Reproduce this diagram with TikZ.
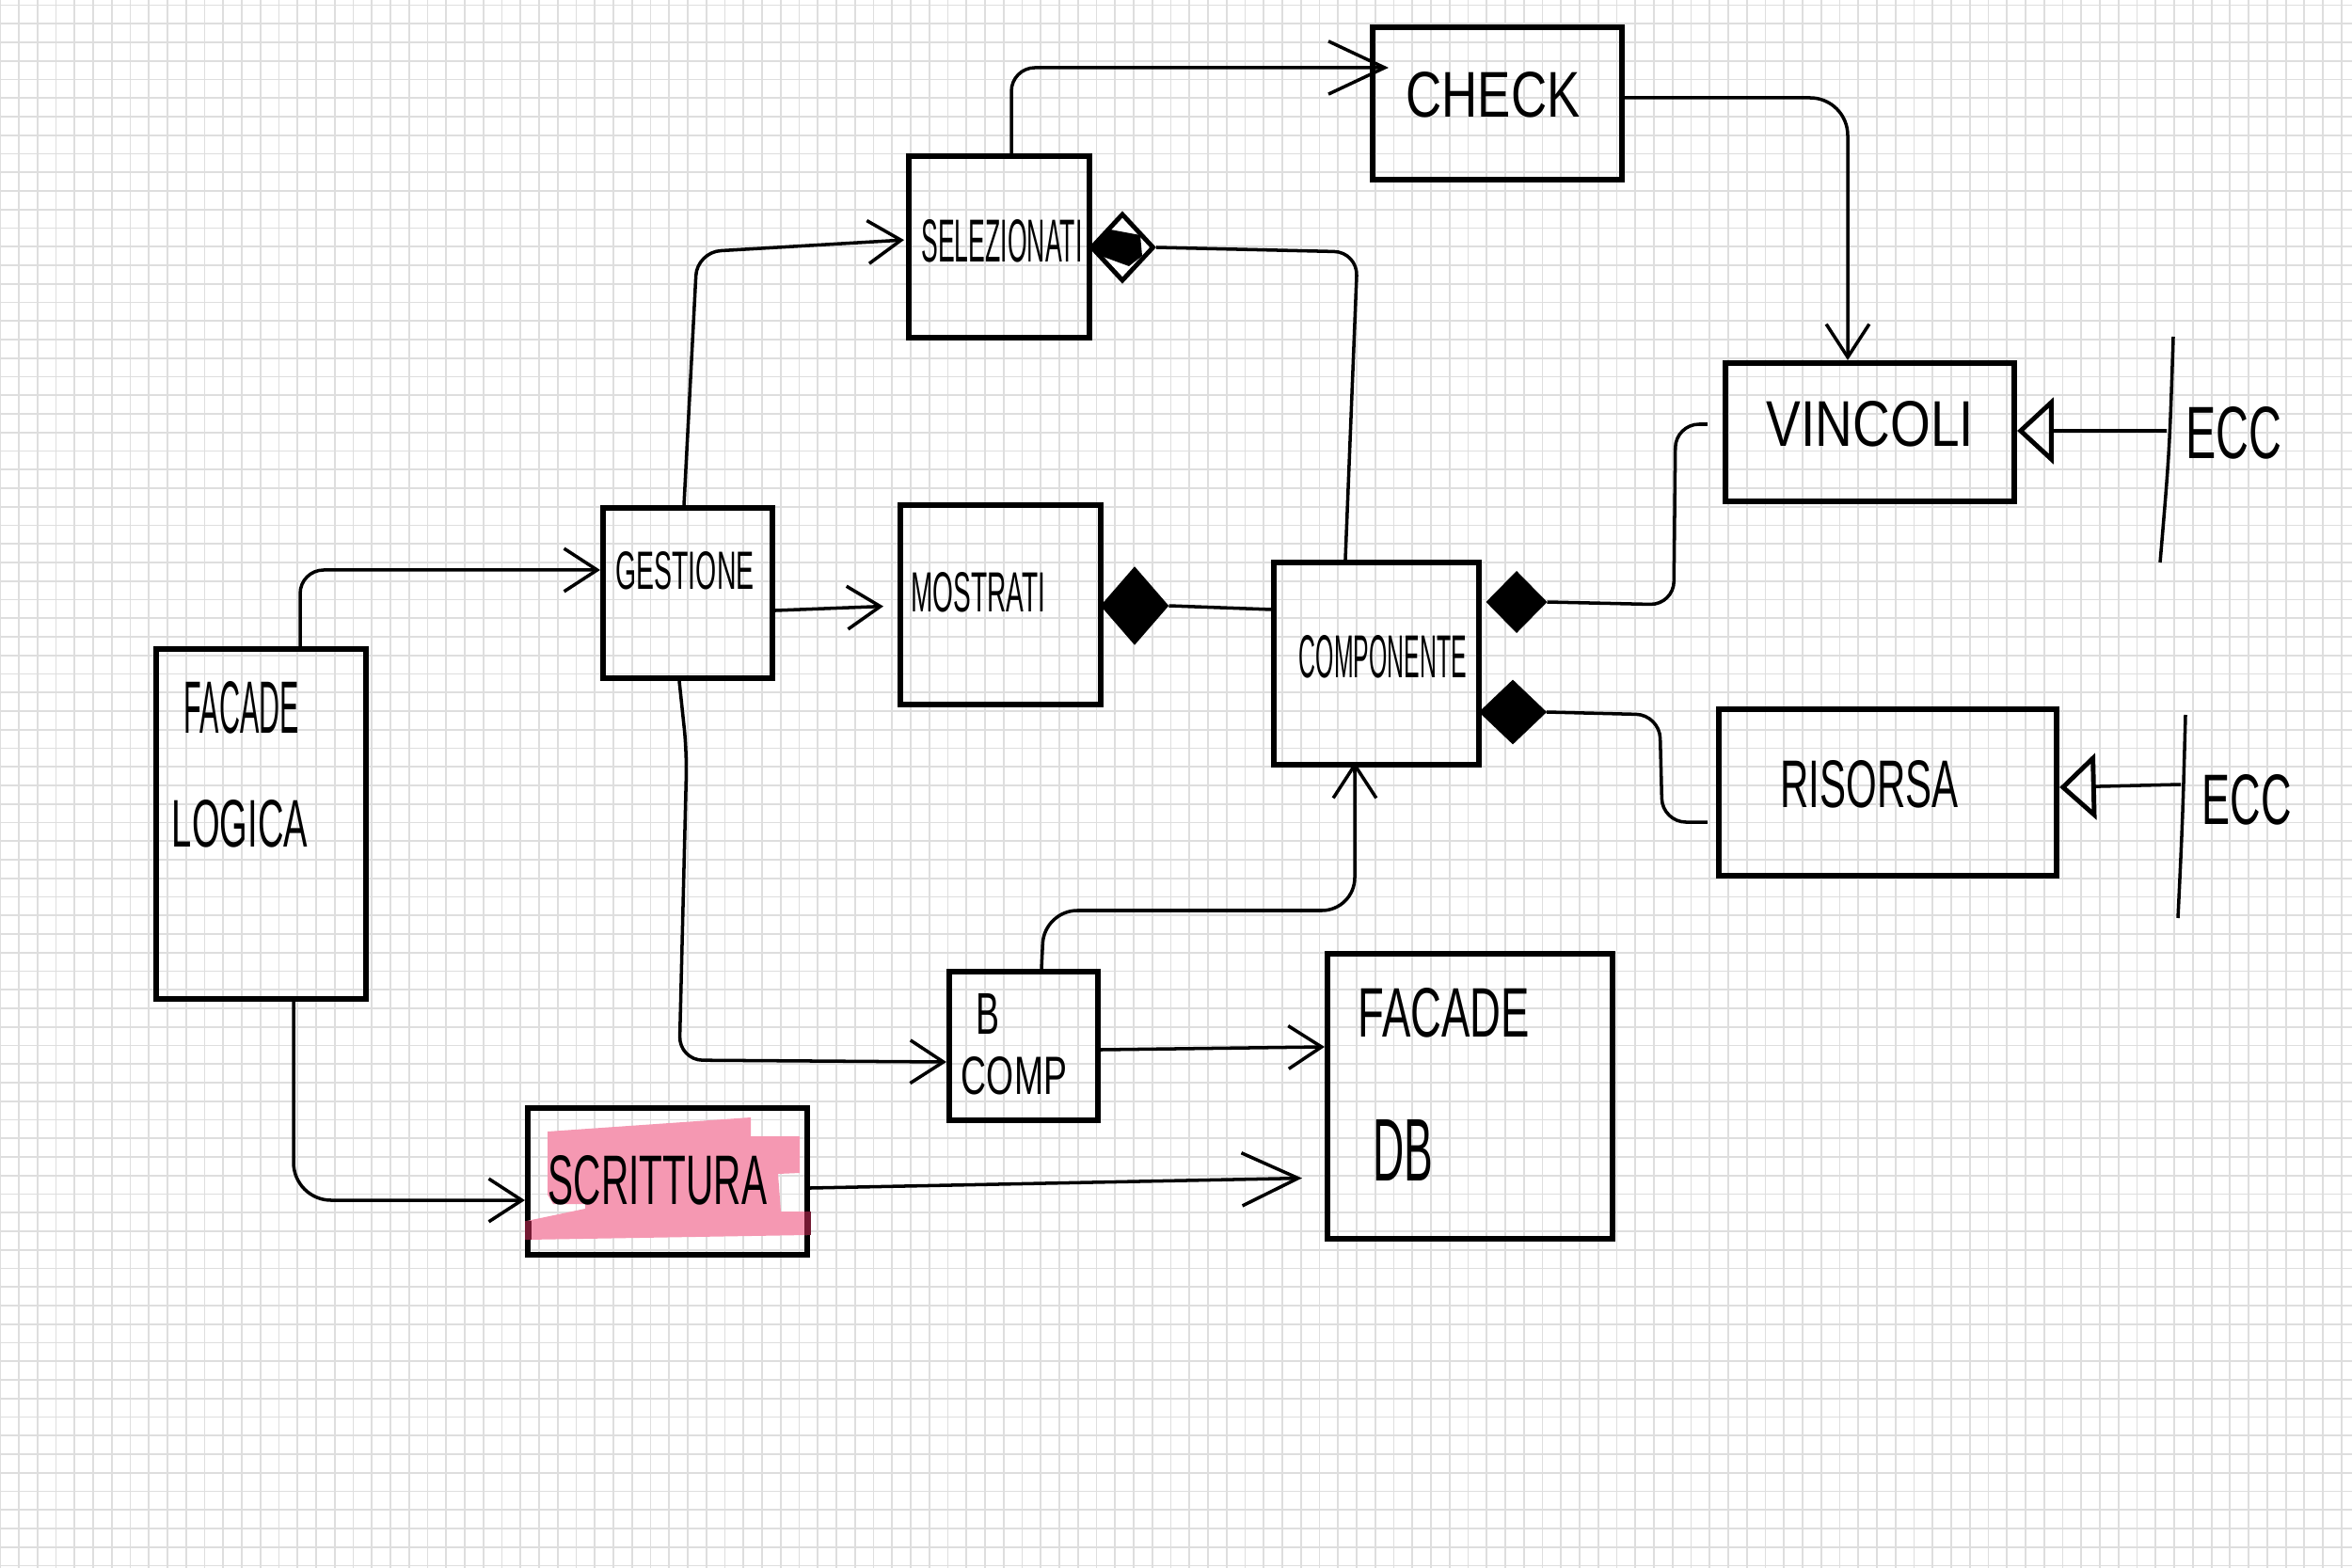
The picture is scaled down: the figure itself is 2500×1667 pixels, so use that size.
\documentclass[tikz,border=0pt]{standalone}
\usepackage{fontspec}
\setmainfont{Liberation Sans}
\usetikzlibrary{arrows.meta,shapes.geometric}
\definecolor{gridgray}{RGB}{222,222,222}
\definecolor{hlpink}{RGB}{245,152,178}
\definecolor{hlmaroon}{RGB}{115,25,50}
% text squeezed into a given width and cap height
\newcommand{\handtext}[3]{\resizebox{#1}{#2}{#3}}

\begin{document}
\begin{tikzpicture}[x=0.01cm,y=-0.01cm,
  gridln/.style={draw=gridgray,line width=0.55pt},
  box/.style={draw,rectangle,line width=1.7pt,inner sep=0pt},
  lbl/.style={inner sep=0pt,anchor=center},
  conn/.style={line width=1pt,rounded corners=0.25cm},
  harrow/.style={-{Straight Barb[length=10pt,width=13pt]}},
  bigarrow/.style={-{Straight Barb[length=17pt,width=16pt]}},
  inh/.style={-{Triangle[open,length=11pt,width=20pt,line width=1.4pt]}},
  compo/.style={diamond,draw,fill=black,line width=1.4pt,inner sep=0pt,aspect=1}]

% paper
\useasboundingbox (0,0) rectangle (2500,1667);
\fill[white] (0,0) rectangle (2500,1667);
\foreach \i in {0,...,126} \draw[gridln] ({0.25+19.75*\i},0) -- ({0.25+19.75*\i},1667);
\foreach \j in {0,...,84} \draw[gridln] (0,{5.5+19.75*\j}) -- (2500,{5.5+19.75*\j});

% boxes
\node[box,minimum width=2.23cm,minimum height=3.72cm] (logica) at (277.5,876) {};
\node[box,minimum width=1.80cm,minimum height=1.81cm] (gestione) at (731,630.5) {};
\node[box,minimum width=1.92cm,minimum height=1.93cm] (selez) at (1062,262.5) {};
\node[box,minimum width=2.13cm,minimum height=2.12cm] (mostrati) at (1063.5,643) {};
\node[box,minimum width=2.65cm,minimum height=1.62cm] (check) at (1591.5,110) {};
\node[box,minimum width=2.18cm,minimum height=2.15cm] (comp) at (1463,705.5) {};
\node[box,minimum width=3.07cm,minimum height=1.47cm] (vincoli) at (1987.5,459.5) {};
\node[box,minimum width=3.59cm,minimum height=1.77cm] (risorsa) at (2006.5,842.5) {};
\node[box,minimum width=1.58cm,minimum height=1.58cm] (bcomp) at (1088,1112) {};
\node[box,minimum width=3.03cm,minimum height=3.03cm] (facadedb) at (1562.5,1165.5) {};
\node[box,minimum width=2.97cm,minimum height=1.56cm] (scrittura) at (709.5,1256) {};

% highlighter stroke over SCRITTURA
\fill[hlpink] (582,1203) -- (798,1188) -- (798,1208) -- (850,1208) -- (850,1247)
  -- (827,1248) -- (830,1288) -- (858,1288) -- (858,1313) -- (560,1318)
  -- (560,1298) -- (622,1285) -- (622,1280) -- (588,1280) -- (582,1270) -- cycle;
\fill[hlmaroon] (558,1298) rectangle (565,1318);
\fill[hlmaroon] (855,1288) rectangle (862,1313);

% labels
\node[lbl] (tcheck) at (1587,101) {\handtext{1.85cm}{0.48cm}{CHECK}};
\node[lbl] (tgest) at (728,607) {\handtext{1.47cm}{0.40cm}{GESTIONE}};
\node[lbl] (tsel) at (1065,256) {\handtext{1.71cm}{0.45cm}{SELEZIONATI}};
\node[lbl] (tmos) at (1040,630) {\handtext{1.43cm}{0.42cm}{MOSTRATI}};
\node[lbl] (tcomp) at (1470,698) {\handtext{1.78cm}{0.45cm}{COMPONENTE}};
\node[lbl] (tvin) at (1988,451) {\handtext{2.20cm}{0.48cm}{VINCOLI}};
\node[lbl] (tris) at (1987,834) {\handtext{1.89cm}{0.50cm}{RISORSA}};
\node[lbl] (tecca) at (2374,460) {\handtext{1.02cm}{0.55cm}{ECC}};
\node[lbl] (teccb) at (2388,850) {\handtext{0.95cm}{0.53cm}{ECC}};
\node[lbl] (tfaca) at (257,752) {\handtext{1.22cm}{0.55cm}{FACADE}};
\node[lbl] (tlog) at (255,876) {\handtext{1.44cm}{0.50cm}{LOGICA}};
\node[lbl] (tb) at (1050,1078) {\handtext{0.25cm}{0.43cm}{B}};
\node[lbl] (tcmp) at (1078,1144) {\handtext{1.12cm}{0.40cm}{COMP}};
\node[lbl] (tfacb) at (1535,1077) {\handtext{1.82cm}{0.52cm}{FACADE}};
\node[lbl] (tdb) at (1491,1223) {\handtext{0.64cm}{0.65cm}{DB}};
\node[lbl] (tscr) at (699,1255) {\handtext{2.32cm}{0.52cm}{SCRITTURA}};

% composition diamonds
\node[compo,fill=white,minimum width=0.67cm,minimum height=0.72cm] (dsel) at (1193,263) {};
\fill[black] (1163,262) -- (1180,244) -- (1212,250) -- (1214,272) -- (1200,283) -- (1170,272) -- cycle;
\node[compo,minimum width=0.68cm,minimum height=0.78cm] (dmos) at (1206,644) {};
\node[compo,minimum width=0.60cm,minimum height=0.61cm] (dcompa) at (1612,640) {};
\node[compo,minimum width=0.67cm,minimum height=0.64cm] (dcompb) at (1608,757) {};

% free ends of the ECC bars
\coordinate (ecca) at (2303,458);
\coordinate (eccb) at (2318,834);
\draw[line width=1pt] (2310,358) .. controls (2306,480) .. (2296,598);
\draw[line width=1pt] (2323,760) .. controls (2320,870) .. (2315,976);

% connectors
\draw[conn,harrow] ([xshift=0.415cm]logica.north) |- ([yshift=0.245cm]gestione.west);
\draw[conn,harrow,rounded corners=0.4cm] ([xshift=0.345cm]logica.south) |- ([yshift=-0.2cm]scrittura.west);
\draw[conn,harrow,shorten >=0.02cm] ([xshift=-0.04cm]gestione.north) -- (741,268) -- ([yshift=0.075cm]selez.west);
\draw[conn,harrow,shorten >=0.15cm] ([yshift=-0.185cm]gestione.east) -- ([yshift=-0.01cm]mostrati.west);
\draw[conn,harrow] ([xshift=-0.09cm]gestione.south) -- (730,800) -- (722,1127) -- ([yshift=-0.17cm]bcomp.west);
\draw[conn,bigarrow,shorten >=-0.2cm] ([xshift=0.13cm]selez.north) |- ([yshift=0.38cm]check.west);
\draw[conn,harrow,rounded corners=0.4cm] ([yshift=0.06cm]check.east) -| ([xshift=-0.235cm]vincoli.north);
\draw[conn] (dsel.east) -- (1443,268) -- ([xshift=-0.33cm]comp.north);
\draw[conn] (dmos.east) -- ([yshift=0.575cm]comp.west);
\draw[conn,shorten >=0.16cm] (dcompa.east) -- (1779,643) -- (1781,451) -- ([yshift=0.085cm]vincoli.west);
\draw[conn,shorten >=0.09cm] (dcompb.east) -- (1764,760) -- (1767,874) -- ([yshift=-0.315cm]risorsa.west);
\draw[conn,harrow,rounded corners=0.35cm,shorten >=-0.06cm] ([xshift=0.19cm]bcomp.north) -- (1110,968) -- (1440,968) -- ([xshift=-0.23cm]comp.south);
\draw[conn,harrow] ([yshift=-0.04cm]bcomp.east) -- ([yshift=0.525cm]facadedb.west);
\draw[conn,bigarrow,shorten >=0.24cm] ([yshift=-0.07cm]scrittura.east) -- ([yshift=-0.865cm]facadedb.west);
\draw[conn,inh] (ecca) -- ([yshift=0.015cm]vincoli.east);
\draw[conn,inh] (eccb) -- ([yshift=0.055cm]risorsa.east);
\end{tikzpicture}
\end{document}
